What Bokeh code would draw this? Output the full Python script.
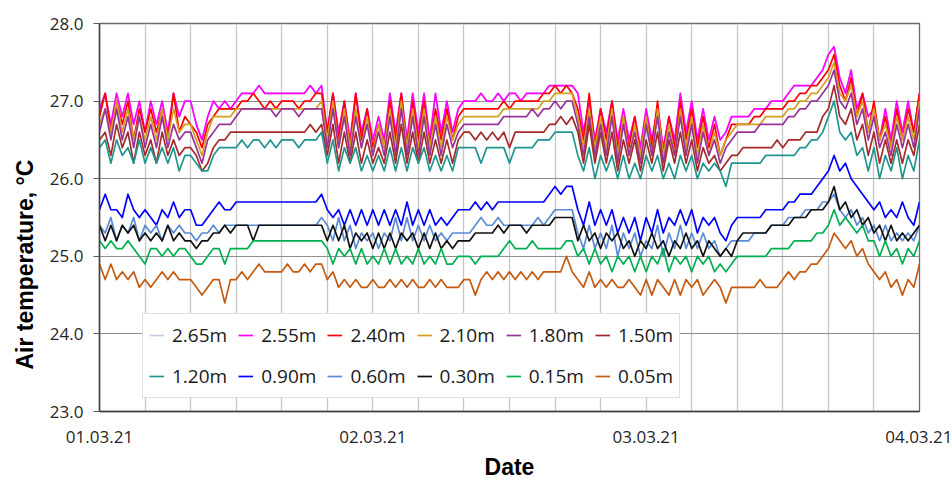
from bokeh.plotting import figure
from bokeh.models import Range1d, FixedTicker, PrintfTickFormatter, Legend, LegendItem, Title
from bokeh.embed import file_html
from bokeh.resources import INLINE

# ---------------- data (30-min steps, 01.03.21 00:00 .. 04.03.21 00:00)
hours = [i * 0.5 for i in range(145)]

t255 = [26.9, 27.1, 26.7, 27.1, 26.8, 27.1, 26.7, 27.0, 26.6, 27.0, 26.7, 27.0, 26.6, 27.1, 26.8, 27.0, 27.0,
        26.7, 26.5, 26.8, 27.0, 26.9, 27.0, 26.9, 27.0,
        27.1, 27.1, 27.1, 27.2, 27.1, 27.1, 27.1, 27.1, 27.1, 27.1, 27.1, 27.1, 27.2, 27.1, 27.2,
        26.6, 27.1, 26.6, 27.0, 26.5, 27.1, 26.6, 26.9, 26.5, 26.8, 26.5, 27.1, 26.6, 27.1, 26.5, 27.1, 26.6, 27.1, 26.5, 27.1, 26.6, 27.0, 26.6,
        26.9, 27.0, 27.0, 27.0, 27.1, 27.0, 27.0, 27.1, 27.0, 27.1, 27.1, 27.0, 27.1, 27.1, 27.1, 27.1, 27.2, 27.2, 27.2, 27.2, 27.2,
        27.1, 26.6, 27.0, 26.5, 26.9, 26.6, 27.0, 26.5, 26.9, 26.5, 26.8, 26.4, 26.9, 26.5, 26.9, 26.4, 26.8, 26.5, 27.1, 26.6, 27.0, 26.5, 26.9, 26.5, 26.8, 26.5,
        26.6, 26.8, 26.8, 26.8, 26.8, 26.9, 26.9, 26.9, 27.0, 27.0, 27.0, 27.1, 27.2, 27.2, 27.2, 27.2, 27.3, 27.4, 27.6, 27.7,
        27.3, 27.1, 27.4, 26.9, 27.1, 26.8, 26.9, 26.5, 26.9, 26.5, 27.0, 26.6, 27.0, 26.6, 27.1]

# the 2.65 m line is hidden under the 2.55 m line in the picture
t265 = list(t255)

t240 = [26.8, 27.1, 26.6, 27.0, 26.7, 27.0, 26.5, 26.9, 26.6, 26.9, 26.6, 26.9, 26.5, 27.1, 26.6, 26.8, 26.7,
        26.6, 26.4, 26.7, 26.8, 26.9, 26.9, 26.9, 26.9,
        27.0, 27.0, 27.1, 27.0, 26.9, 27.0, 26.9, 27.0, 27.0, 27.0, 26.9, 27.0, 27.0, 27.1, 27.1,
        26.6, 27.1, 26.5, 27.0, 26.4, 27.1, 26.5, 26.9, 26.4, 26.7, 26.4, 27.0, 26.5, 27.1, 26.4, 27.0, 26.5, 27.0, 26.4, 26.9, 26.5, 26.9, 26.5,
        26.8, 26.9, 26.9, 26.9, 26.9, 26.9, 26.9, 26.9, 27.0, 26.9, 27.0, 27.0, 27.0, 27.0, 27.0, 27.1, 27.1, 27.2, 27.1, 27.2, 27.1,
        26.9, 26.5, 27.1, 26.4, 26.9, 26.5, 27.0, 26.4, 26.8, 26.4, 26.8, 26.3, 26.8, 26.4, 27.0, 26.3, 26.8, 26.4, 27.0, 26.5, 26.9, 26.4, 26.8, 26.4, 26.7, 26.3,
        26.5, 26.7, 26.7, 26.7, 26.7, 26.8, 26.8, 26.9, 26.9, 26.9, 26.9, 27.0, 27.0, 27.1, 27.1, 27.2, 27.2, 27.3, 27.4, 27.6,
        27.2, 27.0, 27.3, 26.8, 27.1, 26.6, 27.0, 26.5, 26.8, 26.4, 26.9, 26.5, 26.9, 26.6, 27.1]

t210 = [26.7, 26.9, 26.6, 27.0, 26.6, 26.9, 26.5, 26.8, 26.5, 26.8, 26.5, 26.9, 26.5, 26.9, 26.6, 26.7, 26.7,
        26.5, 26.3, 26.6, 26.8, 26.8, 26.8, 26.8, 26.9,
        26.9, 26.9, 26.9, 26.9, 26.9, 26.9, 26.9, 26.9, 26.9, 26.9, 26.9, 26.9, 26.9, 26.9, 27.0,
        26.5, 27.0, 26.4, 26.9, 26.4, 26.9, 26.4, 26.8, 26.3, 26.7, 26.4, 26.9, 26.4, 27.0, 26.4, 26.9, 26.4, 26.9, 26.4, 26.8, 26.4, 26.8, 26.5,
        26.7, 26.8, 26.8, 26.8, 26.8, 26.8, 26.8, 26.8, 26.9, 26.9, 26.9, 26.9, 26.9, 26.9, 26.9, 27.0, 27.0, 27.1, 27.1, 27.1, 27.1,
        26.8, 26.4, 26.9, 26.4, 26.8, 26.4, 26.9, 26.3, 26.8, 26.3, 26.7, 26.3, 26.8, 26.3, 26.9, 26.3, 26.7, 26.3, 26.9, 26.4, 26.8, 26.3, 26.7, 26.3, 26.6, 26.3,
        26.5, 26.6, 26.7, 26.7, 26.7, 26.7, 26.7, 26.8, 26.8, 26.8, 26.8, 26.9, 26.9, 27.0, 27.0, 27.1, 27.1, 27.2, 27.3, 27.5,
        27.1, 27.0, 27.2, 26.8, 27.0, 26.6, 26.9, 26.5, 26.7, 26.4, 26.8, 26.5, 26.8, 26.5, 27.0]

t180 = [26.6, 26.9, 26.5, 26.9, 26.5, 26.8, 26.4, 26.8, 26.4, 26.7, 26.4, 26.8, 26.4, 26.7, 26.5, 26.6, 26.6,
        26.4, 26.2, 26.5, 26.6, 26.7, 26.7, 26.7, 26.8,
        26.9, 26.9, 26.9, 26.9, 26.9, 26.9, 26.8, 26.9, 26.9, 26.9, 26.8, 26.9, 26.9, 26.9, 26.9,
        26.4, 26.9, 26.4, 26.8, 26.3, 26.8, 26.4, 26.7, 26.3, 26.6, 26.3, 26.8, 26.3, 26.9, 26.3, 26.8, 26.3, 26.8, 26.3, 26.7, 26.3, 26.7, 26.4,
        26.6, 26.7, 26.7, 26.7, 26.7, 26.7, 26.7, 26.7, 26.8, 26.8, 26.8, 26.8, 26.8, 26.9, 26.8, 26.9, 26.9, 27.0, 26.9, 27.0, 27.0,
        26.7, 26.3, 26.8, 26.3, 26.7, 26.3, 26.8, 26.2, 26.7, 26.3, 26.6, 26.2, 26.7, 26.3, 26.8, 26.2, 26.6, 26.3, 26.8, 26.3, 26.7, 26.2, 26.6, 26.3, 26.5, 26.2,
        26.4, 26.5, 26.6, 26.6, 26.6, 26.6, 26.7, 26.7, 26.7, 26.7, 26.7, 26.8, 26.8, 26.9, 26.9, 27.0, 27.0, 27.1, 27.2, 27.4,
        27.0, 26.9, 27.1, 26.7, 26.9, 26.5, 26.8, 26.4, 26.6, 26.3, 26.7, 26.4, 26.7, 26.4, 26.9]

t150 = [26.5, 26.6, 26.3, 26.7, 26.4, 26.6, 26.2, 26.6, 26.3, 26.5, 26.2, 26.6, 26.3, 26.5, 26.3, 26.4, 26.4,
        26.3, 26.1, 26.2, 26.4, 26.5, 26.5, 26.6, 26.6,
        26.6, 26.6, 26.6, 26.6, 26.6, 26.6, 26.6, 26.6, 26.6, 26.6, 26.6, 26.6, 26.7, 26.6, 26.7,
        26.3, 26.7, 26.2, 26.6, 26.2, 26.6, 26.2, 26.5, 26.2, 26.4, 26.2, 26.6, 26.2, 26.7, 26.2, 26.6, 26.2, 26.6, 26.2, 26.5, 26.2, 26.5, 26.2,
        26.5, 26.6, 26.6, 26.5, 26.6, 26.5, 26.6, 26.5, 26.6, 26.4, 26.6, 26.6, 26.6, 26.6, 26.6, 26.6, 26.7, 26.7, 26.8, 26.7, 26.8,
        26.6, 26.2, 26.7, 26.2, 26.6, 26.2, 26.6, 26.1, 26.5, 26.2, 26.5, 26.1, 26.5, 26.2, 26.6, 26.1, 26.5, 26.2, 26.6, 26.2, 26.5, 26.1, 26.4, 26.2, 26.3, 26.1,
        26.2, 26.3, 26.3, 26.4, 26.4, 26.4, 26.4, 26.4, 26.4, 26.5, 26.4, 26.5, 26.5, 26.5, 26.6, 26.6, 26.6, 26.8, 26.9, 27.2,
        26.8, 26.7, 26.9, 26.5, 26.7, 26.3, 26.6, 26.2, 26.5, 26.2, 26.5, 26.2, 26.5, 26.3, 26.7]

t120 = [26.4, 26.5, 26.2, 26.5, 26.3, 26.4, 26.2, 26.5, 26.2, 26.4, 26.2, 26.4, 26.2, 26.4, 26.1, 26.3, 26.3,
        26.2, 26.1, 26.1, 26.3, 26.4, 26.4, 26.4, 26.4,
        26.5, 26.4, 26.5, 26.5, 26.4, 26.5, 26.4, 26.5, 26.5, 26.5, 26.4, 26.5, 26.5, 26.5, 26.6,
        26.2, 26.5, 26.1, 26.4, 26.2, 26.4, 26.1, 26.3, 26.1, 26.3, 26.1, 26.4, 26.1, 26.4, 26.1, 26.4, 26.2, 26.4, 26.1, 26.3, 26.1, 26.3, 26.1,
        26.4, 26.4, 26.4, 26.4, 26.2, 26.4, 26.4, 26.4, 26.4, 26.2, 26.4, 26.4, 26.4, 26.4, 26.5, 26.5, 26.5, 26.6, 26.6, 26.6, 26.6,
        26.3, 26.1, 26.4, 26.0, 26.3, 26.1, 26.3, 26.0, 26.3, 26.0, 26.2, 26.0, 26.3, 26.1, 26.3, 26.0, 26.2, 26.0, 26.3, 26.1, 26.3, 26.0, 26.2, 26.1, 26.2, 26.1,
        25.9, 26.2, 26.2, 26.2, 26.2, 26.2, 26.2, 26.3, 26.3, 26.3, 26.3, 26.3, 26.3, 26.4, 26.4, 26.5, 26.5, 26.6, 26.8, 27.0,
        26.6, 26.5, 26.6, 26.3, 26.4, 26.1, 26.4, 26.0, 26.3, 26.1, 26.4, 26.0, 26.3, 26.1, 26.5]

t090 = [25.6, 25.8, 25.6, 25.6, 25.5, 25.8, 25.6, 25.5, 25.6, 25.5, 25.4, 25.6, 25.5, 25.7, 25.5, 25.6, 25.6,
        25.4, 25.4, 25.5, 25.6, 25.7, 25.6, 25.6, 25.7,
        25.7, 25.7, 25.7, 25.7, 25.7, 25.7, 25.7, 25.7, 25.7, 25.7, 25.7, 25.7, 25.7, 25.7, 25.8,
        25.6, 25.5, 25.6, 25.4, 25.6, 25.4, 25.6, 25.4, 25.6, 25.4, 25.6, 25.4, 25.6, 25.4, 25.7, 25.4, 25.6, 25.4, 25.6, 25.4, 25.5, 25.4, 25.5,
        25.6, 25.6, 25.6, 25.7, 25.6, 25.7, 25.6, 25.7, 25.7, 25.7, 25.7, 25.7, 25.7, 25.7, 25.7, 25.7, 25.8, 25.9, 25.8, 25.9, 25.9,
        25.6, 25.4, 25.7, 25.4, 25.6, 25.4, 25.6, 25.3, 25.5, 25.3, 25.5, 25.2, 25.5, 25.3, 25.6, 25.3, 25.5, 25.4, 25.6, 25.4, 25.6, 25.3, 25.5, 25.4, 25.5, 25.3,
        25.2, 25.4, 25.5, 25.5, 25.5, 25.5, 25.5, 25.6, 25.6, 25.6, 25.6, 25.7, 25.7, 25.8, 25.8, 25.8, 25.9, 26.0, 26.1, 26.3,
        26.1, 26.2, 26.0, 25.9, 25.8, 25.7, 25.6, 25.7, 25.5, 25.6, 25.5, 25.7, 25.5, 25.4, 25.7]

t060 = [25.4, 25.3, 25.5, 25.2, 25.4, 25.3, 25.5, 25.2, 25.4, 25.3, 25.4, 25.2, 25.4, 25.3, 25.4, 25.3, 25.3,
        25.2, 25.3, 25.3, 25.4, 25.3, 25.4, 25.4, 25.4,
        25.4, 25.4, 25.4, 25.4, 25.4, 25.4, 25.4, 25.4, 25.4, 25.4, 25.4, 25.4, 25.4, 25.4, 25.5,
        25.4, 25.2, 25.5, 25.2, 25.4, 25.1, 25.3, 25.2, 25.3, 25.1, 25.3, 25.2, 25.5, 25.2, 25.5, 25.2, 25.4, 25.2, 25.4, 25.2, 25.3, 25.2, 25.3,
        25.3, 25.3, 25.3, 25.4, 25.5, 25.4, 25.4, 25.5, 25.4, 25.4, 25.4, 25.4, 25.4, 25.4, 25.5, 25.4, 25.5, 25.6, 25.6, 25.6, 25.6,
        25.3, 25.1, 25.4, 25.1, 25.3, 25.1, 25.4, 25.0, 25.3, 25.1, 25.3, 25.0, 25.2, 25.1, 25.4, 25.0, 25.3, 25.1, 25.4, 25.1, 25.3, 25.1, 25.3, 25.1, 25.2, 25.0,
        25.1, 25.2, 25.2, 25.2, 25.2, 25.3, 25.3, 25.3, 25.4, 25.4, 25.4, 25.5, 25.5, 25.5, 25.6, 25.6, 25.6, 25.7, 25.7, 25.8,
        25.6, 25.5, 25.6, 25.4, 25.5, 25.3, 25.4, 25.2, 25.4, 25.2, 25.3, 25.2, 25.3, 25.2, 25.4]

t030 = [25.4, 25.2, 25.4, 25.2, 25.4, 25.3, 25.4, 25.2, 25.3, 25.2, 25.3, 25.2, 25.4, 25.2, 25.3, 25.2, 25.2,
        25.1, 25.2, 25.2, 25.3, 25.3, 25.4, 25.3, 25.4,
        25.4, 25.4, 25.2, 25.4, 25.4, 25.4, 25.4, 25.4, 25.4, 25.4, 25.4, 25.4, 25.4, 25.4, 25.4,
        25.2, 25.4, 25.2, 25.4, 25.1, 25.3, 25.2, 25.3, 25.1, 25.3, 25.1, 25.3, 25.1, 25.3, 25.2, 25.3, 25.1, 25.3, 25.1, 25.3, 25.1, 25.2, 25.1,
        25.2, 25.2, 25.2, 25.3, 25.3, 25.3, 25.3, 25.4, 25.3, 25.4, 25.4, 25.4, 25.3, 25.4, 25.4, 25.4, 25.4, 25.5, 25.5, 25.5, 25.5,
        25.2, 25.4, 25.2, 25.3, 25.1, 25.3, 25.2, 25.3, 25.1, 25.2, 25.0, 25.2, 25.1, 25.3, 25.1, 25.2, 25.0, 25.2, 25.1, 25.3, 25.1, 25.2, 25.0, 25.2, 25.1, 25.0,
        25.1, 25.0, 25.2, 25.3, 25.3, 25.3, 25.3, 25.3, 25.4, 25.4, 25.4, 25.4, 25.5, 25.5, 25.5, 25.6, 25.6, 25.6, 25.7, 25.9,
        25.6, 25.7, 25.5, 25.6, 25.4, 25.5, 25.3, 25.4, 25.2, 25.4, 25.2, 25.3, 25.2, 25.3, 25.4]

t015 = [25.2, 25.1, 25.2, 25.1, 25.1, 25.2, 25.1, 25.0, 24.9, 25.1, 25.1, 25.0, 25.1, 25.0, 25.1, 25.1, 25.0,
        24.9, 24.9, 25.0, 25.1, 25.1, 24.9, 25.1, 25.1,
        25.1, 25.1, 25.2, 25.2, 25.2, 25.2, 25.2, 25.2, 25.2, 25.2, 25.2, 25.2, 25.2, 25.2, 25.2,
        25.1, 24.9, 25.1, 25.0, 25.1, 24.9, 25.1, 24.9, 25.0, 24.9, 25.1, 24.9, 25.1, 24.9, 25.0, 24.9, 25.1, 24.9, 25.0, 24.9, 25.1, 24.9, 24.9,
        25.0, 25.0, 25.0, 24.9, 25.0, 25.0, 25.0, 25.0, 25.1, 25.2, 25.1, 25.1, 25.1, 25.2, 25.1, 25.1, 25.1, 25.1, 25.1, 25.2, 25.2,
        25.0, 25.1, 24.9, 25.1, 24.9, 25.0, 24.8, 25.0, 24.9, 25.0, 24.8, 25.0, 24.8, 25.0, 24.9, 25.1, 24.8, 25.0, 24.9, 25.0, 24.8, 25.0, 24.9, 25.0, 24.8, 24.9,
        24.8, 24.9, 25.0, 25.0, 25.0, 25.0, 25.0, 25.0, 25.1, 25.1, 25.1, 25.1, 25.2, 25.2, 25.2, 25.2, 25.3, 25.3, 25.4, 25.6,
        25.4, 25.5, 25.4, 25.3, 25.4, 25.2, 25.2, 25.0, 25.2, 25.0, 25.1, 24.9, 25.1, 25.0, 25.2]

t005 = [24.9, 24.7, 24.9, 24.7, 24.8, 24.7, 24.8, 24.6, 24.7, 24.6, 24.7, 24.8, 24.7, 24.8, 24.7, 24.7, 24.7,
        24.6, 24.5, 24.6, 24.7, 24.7, 24.4, 24.7, 24.7,
        24.8, 24.7, 24.8, 24.9, 24.8, 24.8, 24.8, 24.8, 24.9, 24.8, 24.8, 24.9, 24.8, 24.9, 24.9,
        24.7, 24.8, 24.6, 24.7, 24.6, 24.7, 24.6, 24.6, 24.7, 24.6, 24.6, 24.7, 24.6, 24.7, 24.6, 24.7, 24.6, 24.6, 24.7, 24.6, 24.7, 24.6, 24.6,
        24.6, 24.7, 24.7, 24.5, 24.7, 24.8, 24.7, 24.8, 24.7, 24.8, 24.7, 24.8, 24.7, 24.8, 24.7, 24.8, 24.8, 24.8, 24.8, 25.0, 24.8,
        24.7, 24.6, 24.8, 24.6, 24.7, 24.6, 24.7, 24.6, 24.6, 24.7, 24.6, 24.5, 24.7, 24.5, 24.7, 24.6, 24.5, 24.7, 24.5, 24.7, 24.6, 24.7, 24.5, 24.6, 24.7, 24.6,
        24.4, 24.6, 24.6, 24.6, 24.6, 24.6, 24.7, 24.6, 24.6, 24.6, 24.7, 24.8, 24.7, 24.8, 24.8, 24.9, 24.9, 25.0, 25.1, 25.3,
        25.2, 25.1, 25.2, 25.0, 25.1, 24.9, 24.8, 24.7, 24.8, 24.6, 24.7, 24.5, 24.7, 24.6, 24.9]

labels = ["2.65m", "2.55m", "2.40m", "2.10m", "1.80m", "1.50m",
          "1.20m", "0.90m", "0.60m", "0.30m", "0.15m", "0.05m"]
values = [t265, t255, t240, t210, t180, t150, t120, t090, t060, t030, t015, t005]
colors = ["#c9c9e4", "#ff00ff", "#ff0000", "#d4a020", "#993399", "#a52a2a",
          "#20958f", "#0000ff", "#5b8bd6", "#111111", "#00b050", "#c55a11"]

y_ticks = [23, 24, 25, 26, 27, 28]
day_ticks = [0, 24, 48, 72]
day_labels = ["01.03.21", "02.03.21", "03.03.21", "04.03.21"]
grid_hours = list(range(0, 73, 4))

for name, v in zip(labels, values):
    assert len(v) == len(hours), (name, len(v))

# ---------------- figure
p = figure(width=952, height=482, output_backend="svg", toolbar_location=None,
           x_range=Range1d(0, 72), y_range=Range1d(23, 28),
           min_border_left=96, min_border_right=33, min_border_top=23, min_border_bottom=70)
p.background_fill_color = "white"
p.border_fill_color = "white"
p.outline_line_color = "#6b6b6b"
p.outline_line_width = 1.3

items = []
for name, v, c in zip(labels, values, colors):
    r = p.line(hours, v, line_color=c, line_width=1.7, line_join="round")
    items.append(LegendItem(label=name, renderers=[r]))

# axes
p.yaxis.ticker = FixedTicker(ticks=y_ticks)
p.yaxis.formatter = PrintfTickFormatter(format="%.1f")
p.yaxis.major_label_text_font = "Open Sans"
p.yaxis.major_label_text_font_size = "17px"
p.yaxis.major_label_text_color = "#262626"
p.yaxis.major_tick_out = 6
p.yaxis.major_tick_in = 0
p.yaxis.major_tick_line_color = "#595959"
p.yaxis.minor_tick_line_color = None
p.yaxis.axis_line_color = "#404040"
p.yaxis.axis_line_width = 1.5
p.yaxis.major_label_standoff = 10

# y-axis title (placed like the reference: starting 42 px above the bottom of the plot area)
ytitle = Title(text="Air temperature, °C", align="left", offset=42, standoff=18,
               text_font="Liberation Sans", text_font_style="bold",
               text_font_size="23px", text_color="#000000")
p.add_layout(ytitle, "left")

p.xaxis.ticker = FixedTicker(ticks=day_ticks)
p.xaxis.major_label_overrides = {t: s for t, s in zip(day_ticks, day_labels)}
p.xaxis.major_label_text_font = "Open Sans"
p.xaxis.major_label_text_font_size = "17px"
p.xaxis.major_label_text_color = "#262626"
p.xaxis.major_tick_line_color = None
p.xaxis.major_tick_out = 0
p.xaxis.major_tick_in = 0
p.xaxis.minor_tick_line_color = None
p.xaxis.axis_line_color = "#404040"
p.xaxis.axis_line_width = 1.5
p.xaxis.major_label_standoff = 19
p.xaxis.axis_label = "Date"
p.xaxis.axis_label_text_font = "Liberation Sans"
p.xaxis.axis_label_text_font_style = "bold"
p.xaxis.axis_label_text_font_size = "23px"
p.xaxis.axis_label_text_color = "#000000"
p.xaxis.axis_label_standoff = 8

# grids
p.xgrid.ticker = FixedTicker(ticks=grid_hours)
p.xgrid.grid_line_color = "#c6c6c6"
p.xgrid.grid_line_width = 1.3
p.ygrid.grid_line_color = "#8f8f8f"
p.ygrid.grid_line_width = 1.2

# legend
legend = Legend(items=items, location=(43, 13), orientation="horizontal", ncols=6,
                label_text_font="Open Sans", label_text_font_size="19px",
                label_text_color="#1a1a1a", glyph_width=15, glyph_height=30,
                label_height=30, label_standoff=8, spacing=11, padding=6, margin=0,
                border_line_color="#bfbfbf", border_line_width=1.2,
                background_fill_color="white", background_fill_alpha=1.0)
p.add_layout(legend)

open("out.html", "w").write(file_html(p, INLINE, title="Air temperature"))
